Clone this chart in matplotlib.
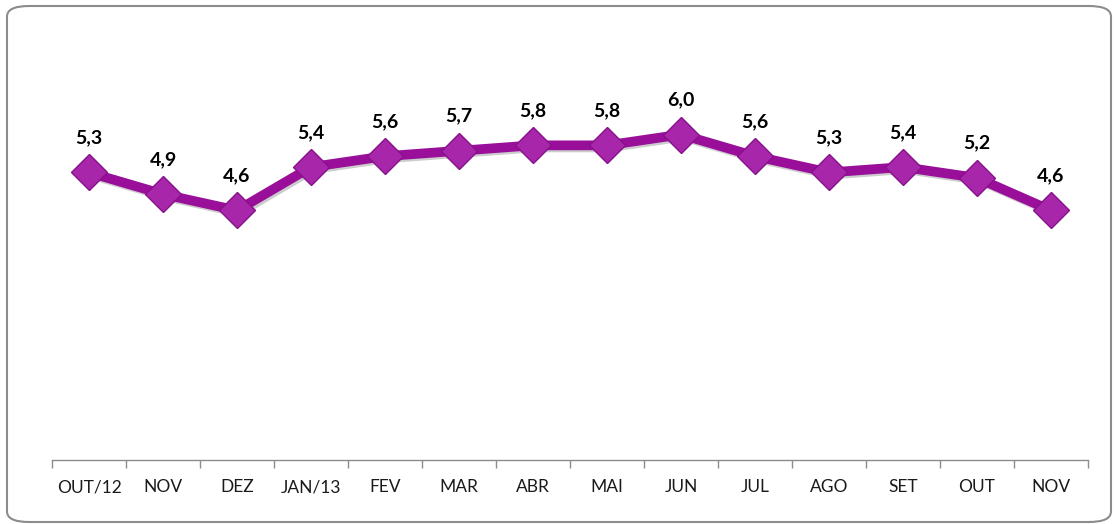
import matplotlib
matplotlib.use('Agg')
import matplotlib.pyplot as plt
import matplotlib.patheffects as pe
from matplotlib.patches import FancyBboxPatch

# data
meses = ['OUT/12', 'NOV', 'DEZ', 'JAN/13', 'FEV', 'MAR', 'ABR', 'MAI',
         'JUN', 'JUL', 'AGO', 'SET', 'OUT', 'NOV']
taxa = [5.3, 4.9, 4.6, 5.4, 5.6, 5.7, 5.8, 5.8, 6.0, 5.6, 5.3, 5.4, 5.2, 4.6]
rotulos = ['5,3', '4,9', '4,6', '5,4', '5,6', '5,7', '5,8', '5,8',
           '6,0', '5,6', '5,3', '5,4', '5,2', '4,6']

plt.rcParams['font.family'] = ['Lato', 'DejaVu Sans']

fig = plt.figure(figsize=(11.15, 5.24), dpi=100)

# rounded frame around the chart
frame = FancyBboxPatch((7 / 1115, 2 / 524), 1104 / 1115, 516 / 524,
                       boxstyle='round,pad=0,rounding_size=0.02',
                       transform=fig.transFigure, facecolor='none',
                       edgecolor='#8c8c8c', linewidth=1.5, zorder=-1)
fig.patches.append(frame)

ax = fig.add_axes([52 / 1115, 64 / 524, 1036 / 1115, 434 / 524])
ax.set_facecolor('none')

x = list(range(len(meses)))
sombra = [pe.SimpleLineShadow(offset=(1.5, -1.5), alpha=0.2), pe.Normal()]
ax.plot(x, taxa, color='#990f99', linewidth=7, solid_joinstyle='round',
        zorder=2, path_effects=sombra)
ax.plot(x, taxa, linestyle='none', marker='D', markersize=18,
        markerfacecolor='#a826aa', markeredgecolor='#86118a',
        markeredgewidth=1, zorder=3)

for xi, yi, txt in zip(x, taxa, rotulos):
    ax.annotate(txt, (xi, yi), xytext=(0, 25), textcoords='offset points',
                ha='center', va='center', fontsize=14, fontweight='bold',
                color='black')

ax.set_xlim(-0.5, len(meses) - 0.5)
ax.set_ylim(0, 8)

ax.set_xticks([i - 0.5 for i in range(len(meses) + 1)], minor=False)
ax.set_xticklabels([])
ax.set_xticks(x, minor=True)
ax.set_xticklabels(meses, minor=True, fontsize=12.5, color='#1a1a1a')
ax.tick_params(axis='x', which='major', length=6, width=1, color='#8c8c8c')
ax.tick_params(axis='x', which='minor', length=0, pad=14)
ax.set_yticks([])

for s in ['top', 'right', 'left']:
    ax.spines[s].set_visible(False)
ax.spines['bottom'].set_color('#8c8c8c')
ax.spines['bottom'].set_linewidth(1)

fig.savefig('out.png', dpi=100)
